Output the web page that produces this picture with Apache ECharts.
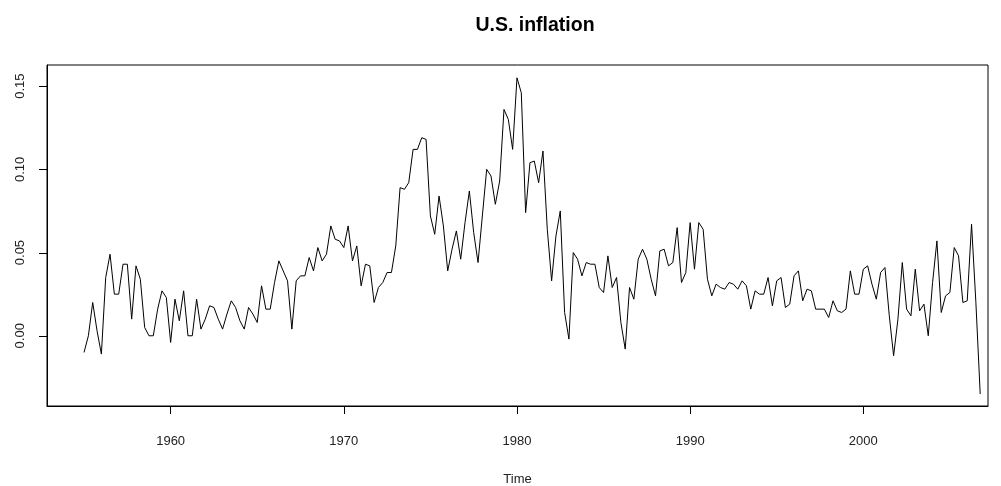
<!DOCTYPE html>
<html>
<head>
<meta charset="utf-8">
<title>U.S. inflation</title>
<script src="https://cdn.jsdelivr.net/npm/echarts@6/dist/echarts.min.js"></script>
<style>
  html, body { margin: 0; padding: 0; background: #fff; }
  #chart { width: 1001px; height: 486px; }
</style>
</head>
<body>
<div id="chart"></div>
<script>
// quarterly series, first value is 1955 Q1
var startYear = 1955;
var perYear = 4;

var infl1950s = [-0.010, 0.000, 0.020, 0.003, -0.011, 0.035, 0.049, 0.025, 0.025, 0.043,
  0.043, 0.010, 0.042, 0.034, 0.005, 0.000, 0.000, 0.016, 0.027, 0.023];
var infl1960s = [-0.004, 0.022, 0.009, 0.027, 0.000, 0.000, 0.022, 0.004, 0.010, 0.018,
  0.017, 0.010, 0.004, 0.013, 0.021, 0.017, 0.009, 0.004, 0.017, 0.013,
  0.008, 0.030, 0.016, 0.016, 0.032, 0.045, 0.039, 0.033, 0.004, 0.033,
  0.036, 0.036, 0.047, 0.039, 0.053, 0.045, 0.049, 0.066, 0.058, 0.057];
var infl1970s = [0.053, 0.066, 0.045, 0.054, 0.030, 0.043, 0.042, 0.020, 0.029, 0.032,
  0.038, 0.038, 0.054, 0.089, 0.088, 0.092, 0.112, 0.112, 0.119, 0.118,
  0.072, 0.061, 0.084, 0.066, 0.039, 0.052, 0.063, 0.046, 0.068, 0.087,
  0.062, 0.044, 0.072, 0.100, 0.096, 0.079, 0.093, 0.136, 0.130, 0.112];
var infl1980s = [0.155, 0.146, 0.074, 0.104, 0.105, 0.092, 0.111, 0.064, 0.033, 0.060,
  0.075, 0.014, -0.002, 0.050, 0.046, 0.036, 0.044, 0.043, 0.043, 0.029,
  0.026, 0.048, 0.029, 0.035, 0.008, -0.008, 0.029, 0.022, 0.046, 0.052,
  0.046, 0.034, 0.024, 0.051, 0.052, 0.042, 0.044, 0.065, 0.032, 0.038];
var infl1990s = [0.068, 0.040, 0.068, 0.064, 0.034, 0.024, 0.031, 0.029, 0.028, 0.032,
  0.031, 0.028, 0.033, 0.030, 0.016, 0.027, 0.025, 0.025, 0.035, 0.018,
  0.033, 0.035, 0.017, 0.019, 0.036, 0.039, 0.021, 0.028, 0.027, 0.016,
  0.016, 0.016, 0.011, 0.021, 0.015, 0.014, 0.016, 0.039, 0.025, 0.025];
var infl2000s = [0.040, 0.042, 0.031, 0.022, 0.038, 0.041, 0.012, -0.012, 0.010, 0.044,
  0.016, 0.012, 0.040, 0.015, 0.019, 0.000, 0.032, 0.057, 0.014, 0.024,
  0.026, 0.053, 0.048, 0.020, 0.021, 0.067, 0.020, -0.035];

var yearTicks = [1960, 1970, 1980, 1990, 2000];
var valueTicks = [0, 0.05, 0.10, 0.15];

var inflation = [].concat(infl1950s, infl1960s, infl1970s, infl1980s, infl1990s, infl2000s);
var seriesData = inflation.map(function (v, i) {
  return [startYear + i / perYear, v];
});

var chart = echarts.init(document.getElementById('chart'));
var font = 'Liberation Sans, Arial, sans-serif';
var gridLeft = 47;

chart.setOption({
  animation: false,
  backgroundColor: '#fff',
  title: {
    text: 'U.S. inflation',
    left: 530,
    textAlign: 'center',
    top: 11,
    textStyle: { fontFamily: font, fontSize: 19.5, fontWeight: 'bold', color: '#000' }
  },
  grid: {
    left: gridLeft,
    right: 13,
    top: 65,
    bottom: 80,
    outerBoundsMode: 'none',
    containLabel: false,
    show: true,
    borderColor: '#000',
    borderWidth: 1,
    backgroundColor: 'transparent'
  },
  xAxis: {
    type: 'value',
    min: 1952.86,
    max: 2007.2,
    name: 'Time',
    nameLocation: 'middle',
    nameGap: 67,
    nameTextStyle: { fontFamily: font, fontSize: 13, color: '#222' },
    axisLine: { show: true, onZero: false, lineStyle: { color: '#000', width: 1 } },
    splitLine: { show: false },
    axisTick: {
      show: true,
      inside: false,
      length: 8,
      customValues: yearTicks,
      lineStyle: { color: '#000', width: 1 }
    },
    axisLabel: {
      customValues: yearTicks,
      margin: 29,
      fontFamily: font,
      fontSize: 13,
      color: '#222',
      formatter: function (v) { return String(v); }
    }
  },
  yAxis: {
    type: 'value',
    min: -0.0422,
    max: 0.1627,
    axisLine: { show: true, onZero: false, lineStyle: { color: '#000', width: 1 } },
    splitLine: { show: false },
    axisTick: { show: false },
    axisLabel: {
      customValues: valueTicks,
      rotate: 90,
      margin: 20,
      fontFamily: font,
      fontSize: 13,
      color: '#222',
      formatter: function (v) { return v.toFixed(2); }
    }
  },
  series: [{
    name: 'inflation',
    type: 'line',
    data: seriesData,
    showSymbol: false,
    symbol: 'none',
    lineStyle: { color: '#000', width: 1 },
    silent: true
  }]
});

// the y axis custom ticks don't show up here, so draw them at the scale's pixel positions
chart.setOption({
  graphic: valueTicks.map(function (v) {
    var y = Math.round(chart.convertToPixel({ yAxisIndex: 0 }, v)) + 0.5;
    return {
      type: 'line',
      silent: true,
      z: 100,
      shape: { x1: gridLeft - 8, y1: y, x2: gridLeft, y2: y },
      style: { stroke: '#000', lineWidth: 1 }
    };
  })
});
</script>
</body>
</html>
